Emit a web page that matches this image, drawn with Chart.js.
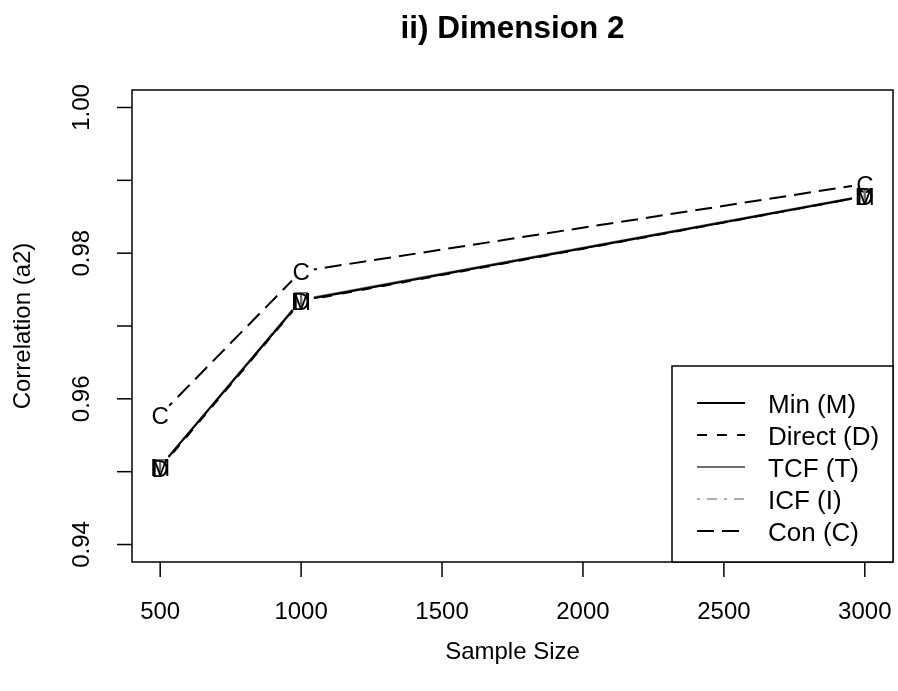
<!DOCTYPE html>
<html>
<head>
<meta charset="utf-8">
<script src="https://cdn.jsdelivr.net/npm/chart.js@4/dist/chart.umd.min.js"></script>
<style>
html,body{margin:0;padding:0;background:#fff;}
#wrap{width:898px;height:691px;}
</style>
</head>
<body>
<div id="wrap"><canvas id="c" width="898" height="691"></canvas></div>
<script>
// ---- data ----
const sampleSizes = [500, 1000, 3000];
const minM    = [0.9507, 0.9735, 0.9878];
const directD = [0.9505, 0.9734, 0.9878];
const tcfT    = [0.9507, 0.9736, 0.9879];
const icfI    = [0.9506, 0.9735, 0.9878];
const conC    = [0.9578, 0.9775, 0.9895];
const seriesNames = ['Min (M)', 'Direct (D)', 'TCF (T)', 'ICF (I)', 'Con (C)'];
const seriesLetters = ['M', 'D', 'T', 'I', 'C'];
const xTickValues = [500, 1000, 1500, 2000, 2500, 3000];
const yTickValues = [0.94, 0.95, 0.96, 0.97, 0.98, 0.99, 1.00];
const yTickLabels = ['0.94', '', '0.96', '', '0.98', '', '1.00'];
const titleText = 'ii) Dimension 2';
const xTitle = 'Sample Size';
const yTitle = 'Correlation (a2)';

const FONT = '"Liberation Sans", Arial, Helvetica, sans-serif';
const styles = [
  {color:'#000000', dash:[]},
  {color:'#000000', dash:[10,10]},
  {color:'#6e6e6e', dash:[]},
  {color:'#ababab', dash:[3,7,10,7]},
  {color:'#000000', dash:[17,8]}
];
const allSeries = [minM, directD, tcfT, icfI, conC];

const datasets = allSeries.map((vals, i) => ({
  label: seriesNames[i],
  data: sampleSizes.map((x, j) => ({x: x, y: vals[j]})),
  borderColor: styles[i].color,
  borderDash: styles[i].dash,
  borderWidth: 2,
  pointRadius: 0,
  pointHoverRadius: 0,
  fill: false,
  tension: 0
}));

const GAP = 13;
const rPlot = {
  id: 'rPlot',
  beforeDatasetDraw(chart, args) {
    const ctx = chart.ctx;
    const meta = args.meta;
    ctx.save();
    ctx.beginPath();
    ctx.rect(0, 0, chart.width, chart.height);
    meta.data.forEach(p => {
      ctx.moveTo(p.x + GAP, p.y);
      ctx.arc(p.x, p.y, GAP, 0, Math.PI * 2);
    });
    ctx.clip('evenodd');
  },
  afterDatasetDraw(chart, args) {
    const ctx = chart.ctx;
    ctx.restore();
    const i = args.index;
    ctx.save();
    ctx.fillStyle = styles[i].color;
    ctx.font = '24px ' + FONT;
    ctx.textAlign = 'center';
    ctx.textBaseline = 'alphabetic';
    args.meta.data.forEach(p => {
      ctx.fillText(seriesLetters[i], p.x, p.y + 9);
    });
    ctx.restore();
  },
  afterDraw(chart) {
    const ctx = chart.ctx;
    const a = chart.chartArea;
    const xs = chart.scales.x, ys = chart.scales.y;
    ctx.save();
    ctx.strokeStyle = '#000';
    ctx.lineWidth = 1.5;
    // box
    ctx.strokeRect(a.left, a.top, a.right - a.left, a.bottom - a.top);
    // x ticks
    ctx.fillStyle = '#000';
    ctx.font = '24px ' + FONT;
    ctx.textAlign = 'center';
    ctx.textBaseline = 'alphabetic';
    xTickValues.forEach(v => {
      const px = xs.getPixelForValue(v);
      ctx.beginPath();
      ctx.moveTo(px, a.bottom);
      ctx.lineTo(px, a.bottom + 15);
      ctx.stroke();
      ctx.fillText(String(v), px, a.bottom + 57);
    });
    // y ticks
    yTickValues.forEach((v, k) => {
      const py = ys.getPixelForValue(v);
      ctx.beginPath();
      ctx.moveTo(a.left, py);
      ctx.lineTo(a.left - 15, py);
      ctx.stroke();
      if (yTickLabels[k]) {
        ctx.save();
        ctx.translate(a.left - 43, py);
        ctx.rotate(-Math.PI / 2);
        ctx.fillText(yTickLabels[k], 0, 0);
        ctx.restore();
      }
    });
    // titles
    const cx = (a.left + a.right) / 2;
    ctx.fillText(xTitle, cx, a.bottom + 97);
    ctx.save();
    ctx.translate(30, (a.top + a.bottom) / 2);
    ctx.rotate(-Math.PI / 2);
    ctx.fillText(yTitle, 0, 0);
    ctx.restore();
    ctx.font = 'bold 31.5px ' + FONT;
    ctx.fillText(titleText, cx, 38);
    // legend
    const lw = 221, lh = 196;
    const lx = a.right - lw, ly = a.bottom - lh;
    ctx.fillStyle = '#fff';
    ctx.fillRect(lx, ly, lw, lh);
    ctx.strokeStyle = '#000';
    ctx.lineWidth = 1.5;
    ctx.strokeRect(lx, ly, lw, lh);
    ctx.font = '26px ' + FONT;
    ctx.textAlign = 'left';
    ctx.textBaseline = 'alphabetic';
    seriesNames.forEach((name, i) => {
      const yy = ly + 37 + i * 32;
      ctx.save();
      ctx.strokeStyle = styles[i].color;
      ctx.lineWidth = 2;
      ctx.setLineDash(styles[i].dash);
      ctx.beginPath();
      ctx.moveTo(lx + 25, yy);
      ctx.lineTo(lx + 73, yy);
      ctx.stroke();
      ctx.restore();
      ctx.fillStyle = '#000';
      ctx.fillText(name, lx + 96, yy + 10);
    });
    ctx.restore();
  }
};

new Chart(document.getElementById('c'), {
  type: 'line',
  data: { datasets: datasets },
  options: {
    responsive: false,
    animation: false,
    devicePixelRatio: 1,
    layout: { padding: { left: 132, right: 5, top: 90, bottom: 129 } },
    plugins: { legend: { display: false }, tooltip: { enabled: false }, title: { display: false } },
    scales: {
      x: { type: 'linear', display: false, min: 400, max: 3100 },
      y: { type: 'linear', display: false, min: 0.9376, max: 1.0024 }
    }
  },
  plugins: [rPlot]
});
</script>
</body>
</html>
